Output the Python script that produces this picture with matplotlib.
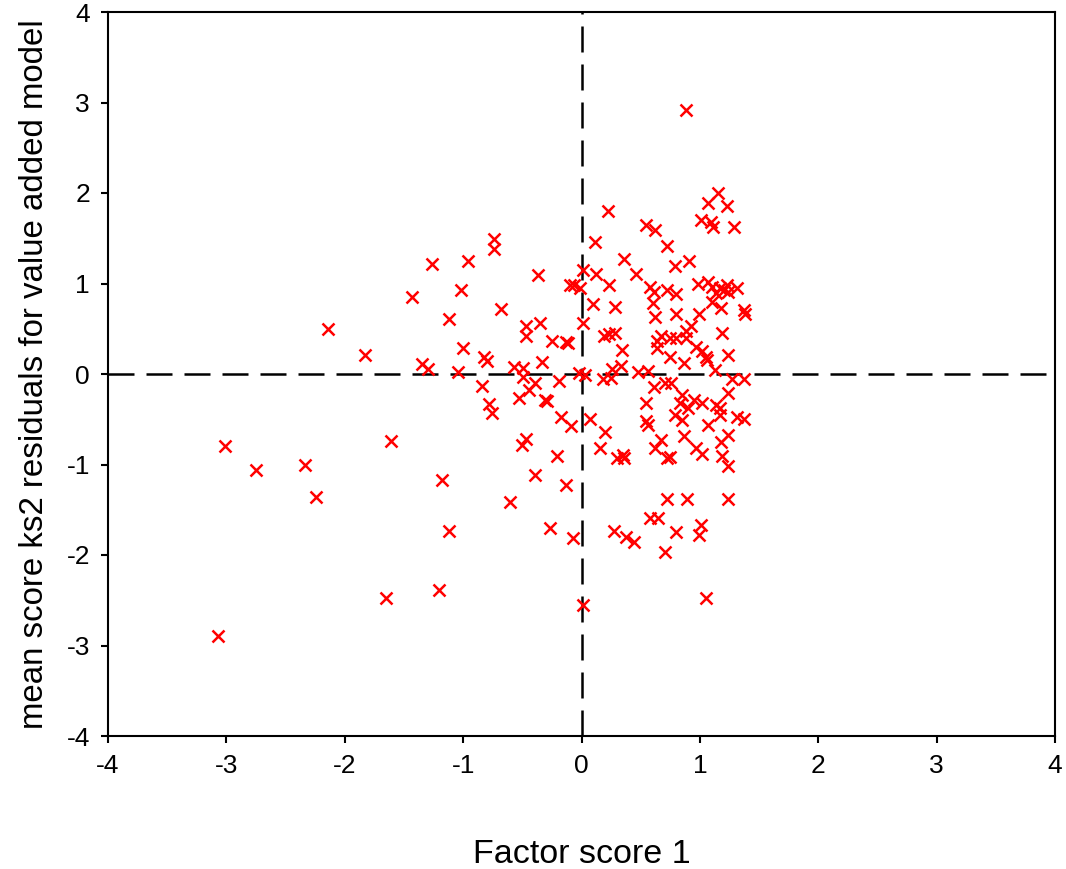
import matplotlib
matplotlib.use("Agg")
import matplotlib.pyplot as plt
from matplotlib import font_manager as fm

names = {f.name for f in fm.fontManager.ttflist}
family = "Liberation Sans Narrow" if "Liberation Sans Narrow" in names else "Liberation Sans"
plt.rcParams['font.family'] = [family, 'DejaVu Sans']

factor_score = [
    -2.14, -3.01, -2.75, -2.34, -2.24, -3.07, -1.83, -1.43, -1.26, -0.96,
    -0.74, -0.74, -1.02, -1.12, -0.68, -0.37, -1.00, -1.35, -1.30, -1.04,
    -0.82, -0.80, -0.47, -0.47, -0.35, -0.25, -0.13, -0.11, -0.33, -0.57,
    -0.49, -0.49, -0.84, -0.39, -0.44, -0.53, -0.19, -0.31, -0.29, -0.78,
    -0.76, -0.17, -0.09, -0.47, -0.50, -1.61, 0.015, -0.10, -0.06, -0.01,
    0.015, -1.18, -1.12, -1.65, -1.20, -0.60, -0.21, -0.39, -0.13, -0.27,
    -0.07, 0.015, 0.07, -0.02, 0.03,
    0.885, 1.15, 1.07, 1.23, 0.22, 1.01, 1.09, 1.11, 1.29, 0.545,
    0.62, 0.11, 0.72, 0.36, 0.905, 0.79, 0.12, 0.46, 0.235, 0.58,
    0.61, 0.72, 0.80,
    0.985, 1.07, 1.10, 1.17, 1.23, 1.20, 1.24, 1.31, 1.10, 1.18, 1.14,
    1.37, 1.38, 0.095, 0.28, 0.60, 0.62, 0.80, 0.99, 0.925, 0.88,
    1.19, 0.19, 0.235, 0.28, 0.67, 0.64, 0.635, 0.75, 0.80, 0.88,
    0.34, 0.97, 1.015, 1.05, 1.06, 0.75, 0.87, 1.235, 0.33, 0.255,
    0.48, 0.56, 1.13, 0.18, 0.25, 0.61, 0.705, 0.76, 1.27, 1.37,
    1.235, 0.545, 0.85, 0.83, 0.90, 0.95, 1.015, 0.79, 0.85, 1.14,
    1.17, 1.17, 1.31, 1.37, 1.07, 0.20, 0.545, 0.56, 0.67, 0.62,
    0.87, 0.97, 1.015, 1.235, 1.18, 1.19, 1.235, 0.155, 0.30, 0.35,
    0.36, 0.72, 0.75, 0.72, 0.89, 1.235, 0.58, 0.65, 0.275, 0.38,
    0.44, 0.80, 1.01, 0.99, 0.705, 1.05,
]
residuals = [
    0.50, -0.80, -1.06, -1.01, -1.36, -2.90, 0.21, 0.85, 1.22, 1.25,
    1.49, 1.38, 0.93, 0.61, 0.72, 1.09, 0.29, 0.11, 0.055, 0.025,
    0.19, 0.14, 0.53, 0.42, 0.56, 0.37, 0.35, 0.34, 0.13, 0.08,
    0.07, -0.03, -0.13, -0.10, -0.18, -0.27, -0.08, -0.29, -0.30, -0.33,
    -0.43, -0.47, -0.58, -0.72, -0.78, -0.74, 1.15, 0.98, 0.98, 0.95,
    0.56, -1.17, -1.73, -2.47, -2.39, -1.41, -0.91, -1.12, -1.23, -1.70,
    -1.81, -2.55, -0.50, 0.01, -0.01,
    2.92, 2.00, 1.89, 1.86, 1.80, 1.70, 1.68, 1.62, 1.62, 1.65,
    1.59, 1.46, 1.41, 1.27, 1.25, 1.19, 1.11, 1.11, 0.98, 0.96,
    0.91, 0.93, 0.88,
    1.00, 1.02, 0.965, 0.95, 0.98, 0.93, 0.91, 0.95, 0.80, 0.73, 0.89,
    0.71, 0.66, 0.77, 0.74, 0.78, 0.63, 0.66, 0.66, 0.53, 0.48,
    0.45, 0.42, 0.44, 0.45, 0.42, 0.37, 0.29, 0.40, 0.40, 0.40,
    0.265, 0.30, 0.25, 0.19, 0.155, 0.19, 0.125, 0.21, 0.09, 0.06,
    0.025, 0.03, 0.045, -0.05, -0.04, -0.14, -0.10, -0.10, -0.06, -0.06,
    -0.21, -0.32, -0.23, -0.32, -0.38, -0.29, -0.32, -0.45, -0.51, -0.34,
    -0.38, -0.45, -0.47, -0.50, -0.56, -0.64, -0.52, -0.56, -0.73, -0.82,
    -0.69, -0.82, -0.88, -0.67, -0.75, -0.91, -1.02, -0.82, -0.93, -0.90,
    -0.93, -0.93, -0.92, -1.385, -1.385, -1.385, -1.595, -1.595, -1.73, -1.80,
    -1.86, -1.75, -1.67, -1.78, -1.97, -2.47,
]
ticks = [-4, -3, -2, -1, 0, 1, 2, 3, 4]
x_label = "Factor score 1"
y_label = "mean score ks2 residuals for value added model"

fig = plt.figure(figsize=(10.66, 8.69), dpi=100)
ax = fig.add_axes([108 / 1066, 1 - 736 / 869, (1055 - 108) / 1066, (736 - 12) / 869])

lw = 1.8
dash = (0, (26 * 0.72 / lw, 12 * 0.72 / lw))
ax.axhline(0, color='black', lw=lw, linestyle=dash, zorder=1)
ax.axvline(0, color='black', lw=lw, linestyle=dash, zorder=1)

ax.plot(factor_score, residuals, linestyle='none', marker='x', color='#ff0000',
        markersize=9, markeredgewidth=1.8, zorder=3)

ax.set_xlim(-4, 4)
ax.set_ylim(-4, 4)
ax.set_xticks(ticks)
ax.set_yticks(ticks)
ax.set_xticklabels([str(t) for t in ticks])
ax.set_yticklabels([str(t) for t in ticks])
for s in ax.spines.values():
    s.set_linewidth(1.5)
ax.tick_params(direction='out', length=5, width=1.5, labelsize=19, pad=8,
               top=False, right=False)
ax.set_xlabel(x_label, fontsize=24.5, labelpad=44)
ax.set_ylabel(y_label, fontsize=23.8, labelpad=12)

fig.savefig("out.png", dpi=100)
